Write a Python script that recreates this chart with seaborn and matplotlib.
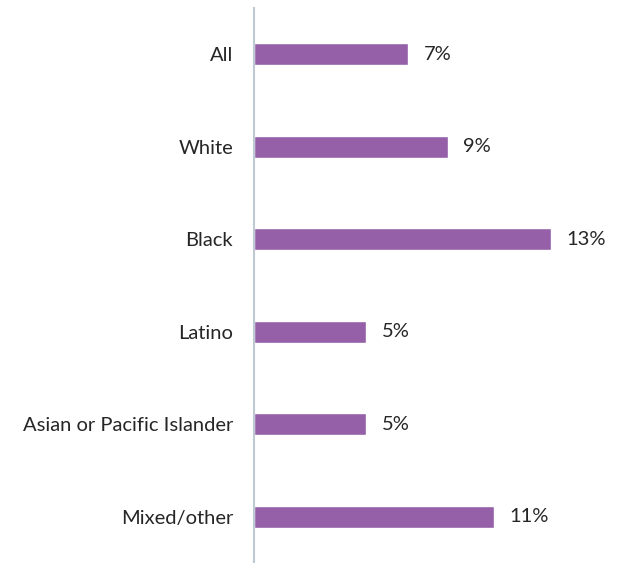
import matplotlib
matplotlib.use("Agg")
import matplotlib.pyplot as plt
import seaborn as sns
import pandas as pd

groups = ["All", "White", "Black", "Latino", "Asian or Pacific Islander", "Mixed/other"]
shares = [7.0, 8.8, 13.5, 5.1, 5.1, 10.9]
labels = ["7%", "9%", "13%", "5%", "5%", "11%"]

df = pd.DataFrame({"group": groups, "share": shares})

sns.set_style("white")
plt.rcParams["font.family"] = ["Lato", "DejaVu Sans"]

fig = plt.figure(figsize=(6.31, 5.63), dpi=100)
ax = fig.add_axes([254 / 631, 0, 377 / 631, 555 / 563])

sns.barplot(data=df, x="share", y="group", orient="h", color="#9560A8",
            saturation=1, width=0.24, ax=ax)

for i, (v, lab) in enumerate(zip(shares, labels)):
    ax.text(v + 0.7, i, lab, va="center", ha="left", fontsize=14.5, color="#262626")

ax.set_xlim(0, 377 / 22)
ax.set_ylim(5.5, -0.5)
ax.set_xlabel("")
ax.set_ylabel("")
ax.set_xticks([])
ax.tick_params(axis="y", length=0, pad=15, labelsize=14.5, labelcolor="#262626")
for s in ["top", "right", "bottom"]:
    ax.spines[s].set_visible(False)
ax.spines["left"].set_color("#BFC9D4")
ax.spines["left"].set_linewidth(1.5)

fig.savefig("out.png", dpi=100)
